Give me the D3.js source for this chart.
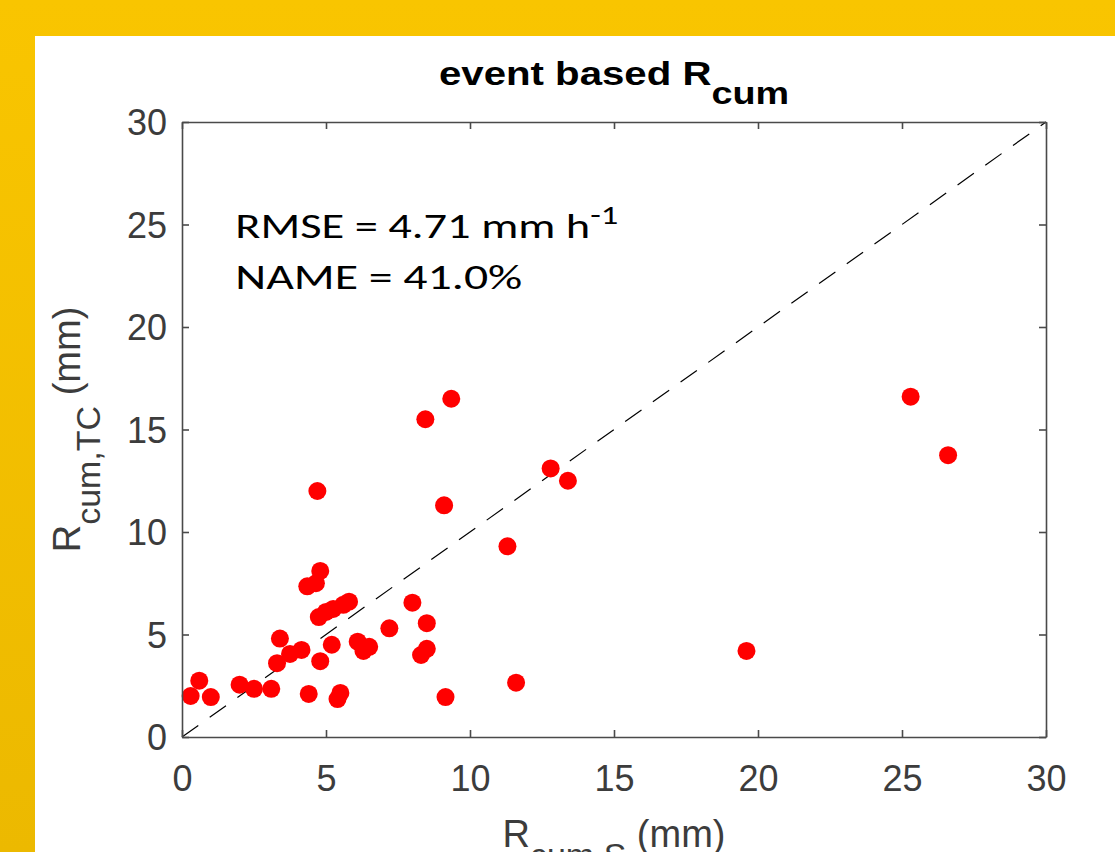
<!DOCTYPE html>
<html>
<head>
<meta charset="utf-8">
<script src="https://cdn.jsdelivr.net/npm/d3@7"></script>
<style>
  html, body { margin: 0; padding: 0; background: #fff; }
  #chart { width: 1115px; height: 852px; overflow: hidden; }
  .axis path, .axis line { stroke: #4a4a4a; stroke-width: 1.6; }
  .axis text { fill: #3c3c3c; font-family: "Liberation Sans", Arial, sans-serif; font-size: 36px; }
</style>
</head>
<body>
<div id="chart"></div>
<script>
// Data
const rcumS = [0.3, 0.6, 1.0, 2.0, 2.5, 3.1, 3.4, 3.3, 3.75, 4.15, 4.4, 4.8, 5.2, 5.4, 5.5,
  6.1, 6.3, 6.5, 7.2, 8.0, 8.5, 8.5, 8.3, 9.15, 11.6, 4.8, 4.35, 4.65, 4.75, 5.0, 5.25,
  5.6, 5.8, 4.7, 8.45, 9.35, 9.1, 11.3, 12.8, 13.4, 19.6, 25.3, 26.6];
const rcumTC = [2.0, 2.75, 1.95, 2.55, 2.35, 2.35, 4.8, 3.6, 4.05, 4.25, 2.1, 3.7, 4.5, 1.85, 2.15,
  4.65, 4.2, 4.4, 5.3, 6.55, 5.55, 4.3, 4.0, 1.95, 2.65, 8.1, 7.35, 7.5, 5.85, 6.1, 6.25,
  6.45, 6.6, 12.0, 15.5, 16.5, 11.3, 9.3, 13.1, 12.5, 4.2, 16.6, 13.75];
const xTicks = [0, 5, 10, 15, 20, 25, 30];
const yTicks = [0, 5, 10, 15, 20, 25, 30];
const statLines = ["RMSE = 4.71 mm h", "NAME = 41.0%"];

const dataset = rcumS.map((x, i) => ({ x, y: rcumTC[i] }));

// Dimensions
const dimensions = {
  width: 1115,
  height: 852,
  margin: { top: 122, right: 69, bottom: 115, left: 182 }
};
dimensions.containerWidth = dimensions.width - dimensions.margin.left - dimensions.margin.right;
dimensions.containerHeight = dimensions.height - dimensions.margin.top - dimensions.margin.bottom;

const svg = d3.select("#chart")
  .append("svg")
  .attr("width", dimensions.width)
  .attr("height", dimensions.height);

// Slide background
const grad = svg.append("defs").append("linearGradient")
  .attr("id", "bg").attr("x1", 0).attr("y1", 0).attr("x2", 0).attr("y2", 1);
grad.append("stop").attr("offset", "0%").attr("stop-color", "#f9c500");
grad.append("stop").attr("offset", "100%").attr("stop-color", "#ecb900");
svg.append("rect").attr("width", dimensions.width).attr("height", dimensions.height).attr("fill", "url(#bg)");
svg.append("rect").attr("x", 35).attr("y", 36)
  .attr("width", dimensions.width - 35).attr("height", dimensions.height - 36).attr("fill", "#fff");

const container = svg.append("g")
  .attr("transform", `translate(${dimensions.margin.left}, ${dimensions.margin.top})`);

// Scales
const xScale = d3.scaleLinear().domain([0, 30]).range([0, dimensions.containerWidth]);
const yScale = d3.scaleLinear().domain([0, 30]).range([dimensions.containerHeight, 0]);

// 1:1 line
container.append("line")
  .attr("x1", xScale(0)).attr("y1", yScale(0))
  .attr("x2", xScale(30)).attr("y2", yScale(30))
  .attr("stroke", "#000")
  .attr("stroke-width", 1.2)
  .attr("stroke-dasharray", "20,14");

// Points
container.selectAll("circle")
  .data(dataset)
  .join("circle")
  .attr("cx", (d) => xScale(d.x))
  .attr("cy", (d) => yScale(d.y))
  .attr("r", 9)
  .attr("fill", "#ff0000");

// Axes (box with inward ticks)
const tick = 7;
container.append("g").attr("class", "axis")
  .attr("transform", `translate(0, ${dimensions.containerHeight})`)
  .call(d3.axisBottom(xScale).tickValues(xTicks).tickSizeInner(-tick).tickSizeOuter(0))
  .call((g) => g.selectAll("text").attr("y", 54).attr("dy", 0));
container.append("g").attr("class", "axis")
  .call(d3.axisTop(xScale).tickValues(xTicks).tickSizeInner(-tick).tickSizeOuter(0).tickFormat(""));
container.append("g").attr("class", "axis")
  .call(d3.axisLeft(yScale).tickValues(yTicks).tickSizeInner(-tick).tickSizeOuter(0))
  .call((g) => g.selectAll("text").attr("x", -15).attr("dy", "0.36em"));
container.append("g").attr("class", "axis")
  .attr("transform", `translate(${dimensions.containerWidth}, 0)`)
  .call(d3.axisRight(yScale).tickValues(yTicks).tickSizeInner(-tick).tickSizeOuter(0).tickFormat(""));

// Title
const title = svg.append("text")
  .attr("x", dimensions.margin.left + dimensions.containerWidth / 2)
  .attr("y", 85)
  .attr("text-anchor", "middle")
  .attr("textLength", 350)
  .attr("lengthAdjust", "spacingAndGlyphs")
  .style("font-family", "'Liberation Sans', Arial, sans-serif")
  .style("font-weight", "bold")
  .style("font-size", "33px")
  .attr("fill", "#000");
title.append("tspan").text("event based R");
title.append("tspan").attr("dy", 19).style("font-size", "31px").text("cum");

// Axis labels
const xLabel = svg.append("text")
  .attr("x", dimensions.margin.left + dimensions.containerWidth / 2)
  .attr("y", 847)
  .attr("text-anchor", "middle")
  .style("font-family", "'Liberation Sans', Arial, sans-serif")
  .style("font-size", "38px")
  .attr("fill", "#3c3c3c");
xLabel.append("tspan").text("R");
xLabel.append("tspan").attr("dy", 20).style("font-size", "34px").text("cum,S");
xLabel.append("tspan").attr("dy", -20).text(" (mm)");

const yLabel = svg.append("text")
  .attr("transform", `translate(80, ${dimensions.margin.top + dimensions.containerHeight / 2}) rotate(-90)`)
  .attr("text-anchor", "middle")
  .style("font-family", "'Liberation Sans', Arial, sans-serif")
  .style("font-size", "38px")
  .attr("fill", "#3c3c3c");
yLabel.append("tspan").text("R");
yLabel.append("tspan").attr("dy", 20).style("font-size", "34px").text("cum,TC");
yLabel.append("tspan").attr("dy", -20).text(" (mm)");

// Statistics text
const stats = container.append("g")
  .attr("transform", `translate(${xScale(1.85)}, ${yScale(24.35)})`)
  .style("font-family", "Carlito, Lato, 'Open Sans', sans-serif")
  .style("font-size", "35px")
  .attr("fill", "#000");
const line1 = stats.append("text").attr("x", 0).attr("y", 0)
  .attr("textLength", 383).attr("lengthAdjust", "spacingAndGlyphs");
line1.append("tspan").text(statLines[0]);
line1.append("tspan").attr("dy", -14).style("font-size", "26px").text("-1");
stats.append("text").attr("x", 0).attr("y", 51)
  .attr("textLength", 287).attr("lengthAdjust", "spacingAndGlyphs")
  .text(statLines[1]);
</script>
</body>
</html>
